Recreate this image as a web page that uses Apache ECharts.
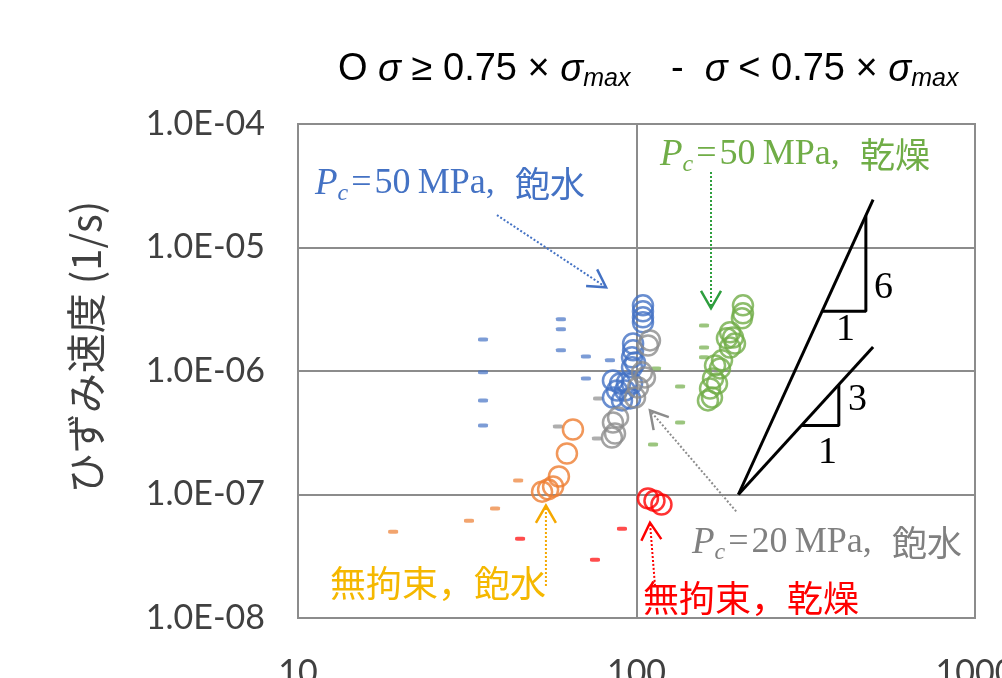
<!DOCTYPE html>
<html><head><meta charset="utf-8">
<script src="https://cdn.jsdelivr.net/npm/echarts@6/dist/echarts.min.js"></script>
<style>html,body{margin:0;padding:0;background:#fff}#c{width:1002px;height:678px}</style>
</head><body><div id="c"></div>
<script>
// ---- axis ticks ----
const xTicks = [10, 100, 1000];
const yTicks = [1e-8, 1e-7, 1e-6, 1e-5, 1e-4];

// ---- data: [x, strain rate (1/s)] ----
// Pc = 50 MPa, saturated (blue)
const pc50SatHigh = [[104.5,3.40e-6],[104.5,3.04e-6],[104.5,2.72e-6],[104.5,2.48e-6],[97.7,1.67e-6],[97.7,1.47e-6],[97.0,1.29e-6],[99.0,1.17e-6],[97.0,1.07e-6],[85.2,8.39e-7],[89.4,7.93e-7],[93.7,8.08e-7],[97.0,7.93e-7],[87.6,6.96e-7],[92.5,6.96e-7],[85.2,6.11e-7],[90.6,5.78e-7],[95.7,6.00e-7]];
const pc50SatLow = [[35.2,1.80e-6],[35.2,9.75e-7],[35.2,5.78e-7],[35.2,3.62e-7],[59.8,2.62e-6],[59.8,2.18e-6],[59.8,1.47e-6],[70.9,1.31e-6],[70.9,8.71e-7],[83.5,1.22e-6]];
// Pc = 20 MPa, saturated (gray)
const pc20SatHigh = [[109.6,1.77e-6],[108.1,1.61e-6],[105.9,8.87e-7],[103.8,9.75e-7],[101.0,7.36e-7],[99.0,6.11e-7],[88.2,4.21e-7],[85.2,3.83e-7],[86.4,3.12e-7],[84.6,2.89e-7]];
const pc20SatLow = [[77.0,6.00e-7],[58.6,3.56e-7],[76.4,2.84e-7]];
// Pc = 50 MPa, dry (green)
const pc50DryHigh = [[206.3,3.40e-6],[206.3,2.93e-6],[204.9,2.67e-6],[188.9,2.06e-6],[192.8,1.87e-6],[185.0,1.84e-6],[195.4,1.67e-6],[188.9,1.55e-6],[178.9,1.22e-6],[170.6,1.11e-6],[176.4,1.05e-6],[168.3,8.71e-7],[172.9,7.93e-7],[164.9,7.22e-7],[167.1,6.11e-7],[162.6,5.78e-7]];
const pc50DryLow = [[158.3,2.34e-6],[158.3,1.55e-6],[158.3,1.29e-6],[114.2,1.05e-6],[134.5,7.50e-7],[134.5,3.83e-7],[111.9,2.54e-7]];
// unconfined, saturated (orange)
const uncSatHigh = [[64.9,3.36e-7],[62.3,2.15e-7],[59.0,1.40e-7],[56.7,1.16e-7],[54.8,1.10e-7],[52.6,1.055e-7]];
const uncSatLow = [[44.7,1.30e-7],[38.2,7.69e-8],[32.0,6.14e-8],[19.1,5.00e-8]];
// unconfined, dry (red)
const uncDryHigh = [[108.1,9.3e-8],[113.0,8.9e-8],[118.5,8.3e-8]];
const uncDryLow = [[90.6,5.29e-8],[75.4,2.96e-8],[45.3,4.39e-8]];

// slope guide lines
const slope6Line = [[200,1e-7],[500,2.44e-5]];
const slope3Line = [[200,1e-7],[500,1.5625e-6]];
const slope6Tri = [[353,3.04e-6],[476,3.04e-6],[476,1.82e-5]];
const slope3Tri = [[307,3.62e-7],[396,3.62e-7],[396,7.76e-7]];

// annotation arrows [start, tip]
const arrowBlue = [[38.7,1.83e-5],[81.3,4.76e-6]];
const arrowGreen = [[166,4.08e-5],[166,3.22e-6]];
const arrowGray = [[197,7.3e-8],[109.6,4.79e-7]];
const arrowOrange = [[54,1.82e-8],[54,8.13e-8]];
const arrowRed = [[113.4,1.82e-8],[109.6,5.92e-8]];

const C = {blue:'#4472C4', gray:'#8C8C8C', green:'#70AD47', orange:'#ED7D31', red:'#FF0000'};

const chart = echarts.init(document.getElementById('c'), null, {renderer:'canvas'});

function circles(name, data, color){
  return {name, type:'scatter', data, symbol:'circle', symbolSize:20,
    itemStyle:{color:'rgba(255,255,255,0)', borderColor:color, borderWidth:2.5}, z:3};
}
function dashes(name, data, color){
  return {name, type:'scatter', data, symbol:'roundRect', symbolSize:[10,4],
    itemStyle:{color, opacity:0.7}, z:2};
}
function guide(data){
  return {type:'line', data, symbol:'none', lineStyle:{color:'#000', width:3}, z:4, silent:true};
}

const fontCalib = 'Lato, "Noto Sans", sans-serif';
chart.setOption({
  animation:false,
  backgroundColor:'#fff',
  grid:{left:298, right:27, top:124, bottom:60, show:true, borderColor:'#8c8c8c', borderWidth:2,
    containLabel:false, outerBoundsMode:'none'},
  xAxis:{type:'log', logBase:10, min:xTicks[0], max:xTicks[xTicks.length-1],
    axisLine:{show:false}, axisTick:{show:false}, minorTick:{show:false},
    splitLine:{show:true, lineStyle:{color:'#8c8c8c', width:2}},
    axisLabel:{margin:38, fontFamily:fontCalib, fontSize:34, color:'#404040', showMinLabel:true, showMaxLabel:true, hideOverlap:false,
      formatter:v=>String(Math.round(v))}},
  yAxis:{type:'log', logBase:10, min:yTicks[0], max:yTicks[yTicks.length-1],
    axisLine:{show:false}, axisTick:{show:false},
    splitLine:{show:true, lineStyle:{color:'#8c8c8c', width:2}},
    axisLabel:{margin:33, fontFamily:fontCalib, fontSize:34, color:'#404040',
      formatter:v=>{const e=Math.round(Math.log10(v)); return '1.0E-' + String(-e).padStart(2,'0');}}},
  series:[
    dashes('pc50SatLow', pc50SatLow, C.blue),
    dashes('pc20SatLow', pc20SatLow, C.gray),
    dashes('pc50DryLow', pc50DryLow, C.green),
    dashes('uncSatLow', uncSatLow, C.orange),
    dashes('uncDryLow', uncDryLow, C.red),
    circles('pc50SatHigh', pc50SatHigh, C.blue),
    circles('pc20SatHigh', pc20SatHigh, C.gray),
    circles('pc50DryHigh', pc50DryHigh, C.green),
    circles('uncSatHigh', uncSatHigh, C.orange),
    circles('uncDryHigh', uncDryHigh, C.red),
    guide(slope6Line), guide(slope3Line), guide(slope6Tri), guide(slope3Tri)
  ]
});

// ---- annotations ----
const mctx = document.createElement('canvas').getContext('2d');
function mw(t, font){ mctx.font = font; return mctx.measureText(t).width; }
function txt(t, x, y, font, fill, extra){
  return Object.assign({type:'text', x, y, silent:true, z:10,
    style:{text:t, font, fill, align:'left', textAlign:'left', verticalAlign:'middle', textVerticalAlign:'middle'}}, extra||{});
}
function run(x, y, pieces){
  const out = [];
  pieces.forEach(p=>{
    if (p.at !== undefined) x = p.at;
    out.push(txt(p.t, x, y + (p.dy||0), p.f, p.c));
    x += mw(p.t, p.f) + (p.gap||0);
  });
  return out;
}
const SANS = '"Liberation Sans", Arial, sans-serif';
const SERIF = '"Liberation Serif", "Times New Roman", serif';
const CJK = '"Noto Sans CJK JP", sans-serif';
const tMain = '38px ' + SANS, tIt = 'italic 38px ' + SANS, tSub = 'italic 25px ' + SANS;

function pcLabel(x, y, value, kind, color){
  return run(x, y, [
    {t:'P', f:'italic 37px ' + SERIF, c:color},
    {t:'c', f:'italic 24px ' + SERIF, c:color, dy:10, gap:3},
    {t:'=', f:'36px ' + SERIF, c:color, gap:3},
    {t:value + '\u2009MPa,', f:'36px ' + SERIF, c:color},
    {t:kind, f:'35px ' + CJK, c:color, at:x + 200}
  ]);
}

function arrow(pts, color){
  const a = chart.convertToPixel({gridIndex:0}, pts[0]);
  const b = chart.convertToPixel({gridIndex:0}, pts[1]);
  const ang = Math.atan2(a[1]-b[1], a[0]-b[0]);
  const L = 20, h = Math.PI/6;
  const p1 = [b[0] + L*Math.cos(ang+h), b[1] + L*Math.sin(ang+h)];
  const p2 = [b[0] + L*Math.cos(ang-h), b[1] + L*Math.sin(ang-h)];
  return [
    {type:'line', silent:true, z:9, shape:{x1:a[0], y1:a[1], x2:b[0], y2:b[1]}, style:{stroke:color, lineWidth:2, lineDash:[2,2]}},
    {type:'polyline', silent:true, z:9, shape:{points:[p1, b, p2]}, style:{stroke:color, lineWidth:2.5, fill:null}}
  ];
}

const g = [];
// title
g.push(...run(338, 70, [
  {t:'O ', f:tMain, c:'#000'}, {t:'\u03c3', f:tIt, c:'#000'}, {t:' \u2265 0.75 \u00d7 ', f:tMain, c:'#000'},
  {t:'\u03c3', f:tIt, c:'#000'}, {t:'max', f:tSub, c:'#000', dy:9}
]));
g.push(...run(671, 70, [
  {t:'-  ', f:tMain, c:'#000'}, {t:'\u03c3', f:tIt, c:'#000'}, {t:' < 0.75 \u00d7 ', f:tMain, c:'#000'},
  {t:'\u03c3', f:tIt, c:'#000'}, {t:'max', f:tSub, c:'#000', dy:9}
]));
// y axis title
g.push({type:'text', x:86, y:347, rotation:Math.PI/2, silent:true,
  style:{text:'ひずみ速度 (1/s)', font:'40px ' + CJK, fill:'#404040', align:'center', textAlign:'center', verticalAlign:'middle', textVerticalAlign:'middle'}});
// labels
g.push(...pcLabel(315, 184, '50', '飽水', C.blue));
g.push(...pcLabel(660, 155, '50', '乾燥', C.green));
g.push(...pcLabel(692, 543, '20', '飽水', '#808080'));
g.push(txt('無拘束，飽水', 330, 583, '36px ' + CJK, '#F5B800'));
g.push(txt('無拘束，乾燥', 643, 598, '36px ' + CJK, C.red));
// slope labels
g.push(txt('6', 874, 288, '38px ' + SERIF, '#000'));
g.push(txt('1', 836, 330, '38px ' + SERIF, '#000'));
g.push(txt('3', 848, 400, '38px ' + SERIF, '#000'));
g.push(txt('1', 818, 453, '38px ' + SERIF, '#000'));
// arrows
g.push(...arrow(arrowBlue, C.blue));
g.push(...arrow(arrowGreen, '#2E9E3E'));
g.push(...arrow(arrowGray, '#8C8C8C'));
g.push(...arrow(arrowOrange, '#F5A800'));
g.push(...arrow(arrowRed, C.red));

chart.setOption({graphic:g});
</script>
</body></html>
